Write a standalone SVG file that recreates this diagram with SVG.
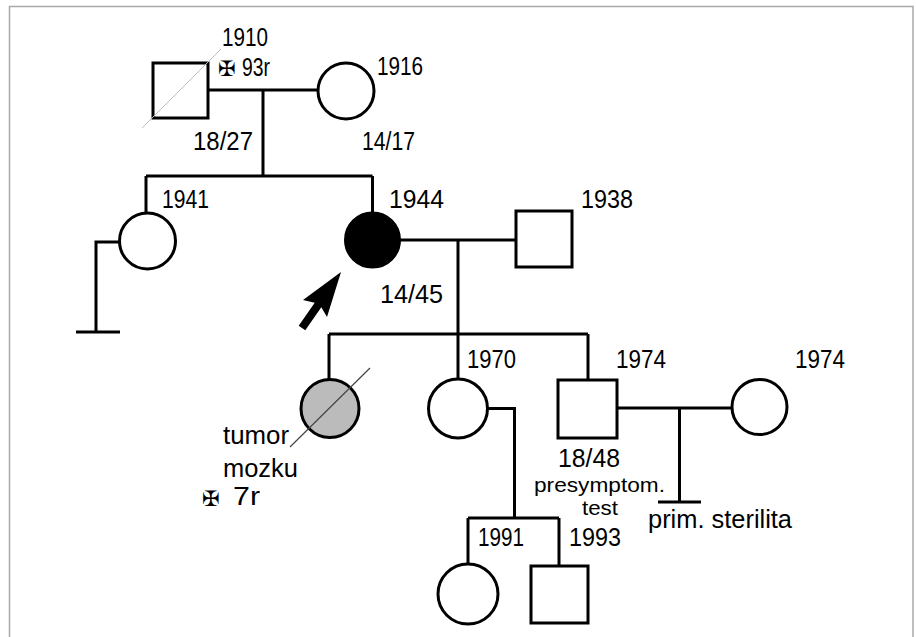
<svg xmlns="http://www.w3.org/2000/svg" width="916" height="637" viewBox="0 0 916 637">
<style>
.ln{fill:none;stroke:#000;stroke-width:3}
.nd{fill:#fff;stroke:#000;stroke-width:3}
.t{font-family:"Liberation Sans",Arial,sans-serif;font-size:25px;fill:#000}
.s{font-family:"Liberation Sans",Arial,sans-serif;font-size:25px;fill:#000}
.m{font-family:"Liberation Sans",Arial,sans-serif;font-size:21px;fill:#000}
.x{font-family:"DejaVu Sans",sans-serif;font-size:21px;font-weight:bold;fill:#000}
</style>
<rect width="916" height="637" fill="#fff"/>
<path d="M9.5,640 V6.5 H913 V640" fill="none" stroke="#a8a8a8" stroke-width="1.5"/>
<g id="connectors">
<path class="ln" d="M208,90 H318"/>
<path class="ln" d="M263,90 V176"/>
<path class="ln" d="M146,176 H372.5"/>
<path class="ln" d="M146,176 V213"/>
<path class="ln" d="M372.5,176 V213"/>
<path class="ln" d="M120,242 H96 V332"/>
<path class="ln" d="M76,332 H120"/>
<path class="ln" d="M399,240 H516"/>
<path class="ln" d="M458,240 V334"/>
<path class="ln" d="M329,334 H588"/>
<path class="ln" d="M329,334 V379"/>
<path class="ln" d="M458,334 V379"/>
<path class="ln" d="M588,334 V380"/>
<path class="ln" d="M488,408.5 H514.5 V518"/>
<path class="ln" d="M468,518 H559"/>
<path class="ln" d="M468,518 V564"/>
<path class="ln" d="M559,518 V566"/>
<path class="ln" d="M617,408 H732"/>
<path class="ln" d="M679.5,408 V502"/>
<path class="ln" d="M658,502 H701"/>
</g>
<g id="n1910">
<rect class="nd" x="153" y="63" width="55" height="55"/>
<line x1="142" y1="128" x2="221" y2="49" stroke="#bdbdbd" stroke-width="1"/>
<text class="t" x="222" y="46" textLength="46" lengthAdjust="spacingAndGlyphs">1910</text>
<text class="x" x="218" y="76">✠</text>
<text class="t" x="242" y="76" textLength="28" lengthAdjust="spacingAndGlyphs">93r</text>
<text class="t" x="193" y="150" textLength="60" lengthAdjust="spacingAndGlyphs">18/27</text>
</g>
<g id="n1916">
<circle class="nd" cx="346" cy="91" r="28"/>
<text class="t" x="377" y="75" textLength="46" lengthAdjust="spacingAndGlyphs">1916</text>
<text class="t" x="362" y="150" textLength="53" lengthAdjust="spacingAndGlyphs">14/17</text>
</g>
<g id="n1941">
<circle class="nd" cx="147.5" cy="241" r="28"/>
<text class="t" x="162" y="208" textLength="47" lengthAdjust="spacingAndGlyphs">1941</text>
</g>
<g id="n1944">
<circle cx="372.5" cy="240" r="27" fill="#000" stroke="#000" stroke-width="3"/>
<text class="t" x="389" y="208" textLength="55" lengthAdjust="spacingAndGlyphs">1944</text>
<polygon points="298.7,325.7 314.7,302.7 303,300 341,272 327,317 321.3,307.3 305.3,330.3" fill="#000"/>
</g>
<g id="n1938">
<rect class="nd" x="516" y="211" width="56" height="56"/>
<text class="t" x="581" y="208" textLength="52" lengthAdjust="spacingAndGlyphs">1938</text>
<text class="t" x="380" y="303" textLength="63" lengthAdjust="spacingAndGlyphs">14/45</text>
</g>
<g id="nTumor">
<circle cx="330" cy="408.5" r="29" fill="#bbbbbb" stroke="#000" stroke-width="3"/>
<line x1="290" y1="447" x2="370" y2="368" stroke="#444" stroke-width="1.2"/>
<text class="s" x="223" y="444" textLength="66" lengthAdjust="spacingAndGlyphs">tumor</text>
<text class="s" x="223" y="477" textLength="75" lengthAdjust="spacingAndGlyphs">mozku</text>
<text class="x" x="202" y="506">✠</text>
<text class="t" x="233" y="505" textLength="27" lengthAdjust="spacingAndGlyphs">7r</text>
</g>
<g id="n1970">
<circle class="nd" cx="458" cy="408.5" r="29.5"/>
<text class="t" x="467" y="368" textLength="49" lengthAdjust="spacingAndGlyphs">1970</text>
</g>
<g id="n1974m">
<rect class="nd" x="558" y="380" width="59" height="58"/>
<text class="t" x="616" y="368" textLength="50" lengthAdjust="spacingAndGlyphs">1974</text>
<text class="t" x="558" y="467" textLength="62" lengthAdjust="spacingAndGlyphs">18/48</text>
<text class="m" x="534" y="492" textLength="131" lengthAdjust="spacingAndGlyphs">presymptom.</text>
<text class="m" x="582" y="515" textLength="36" lengthAdjust="spacingAndGlyphs">test</text>
</g>
<g id="n1974f">
<circle class="nd" cx="759.5" cy="407" r="27.5"/>
<text class="t" x="795" y="368" textLength="50" lengthAdjust="spacingAndGlyphs">1974</text>
</g>
<g id="nSterile">
<text class="s" x="648" y="528" textLength="144" lengthAdjust="spacingAndGlyphs">prim. sterilita</text>
</g>
<g id="n1991">
<circle class="nd" cx="468" cy="594" r="30"/>
<text class="t" x="478" y="546" textLength="46" lengthAdjust="spacingAndGlyphs">1991</text>
</g>
<g id="n1993">
<rect class="nd" x="531" y="566" width="57" height="57"/>
<text class="t" x="569" y="546" textLength="52" lengthAdjust="spacingAndGlyphs">1993</text>
</g>
</svg>
